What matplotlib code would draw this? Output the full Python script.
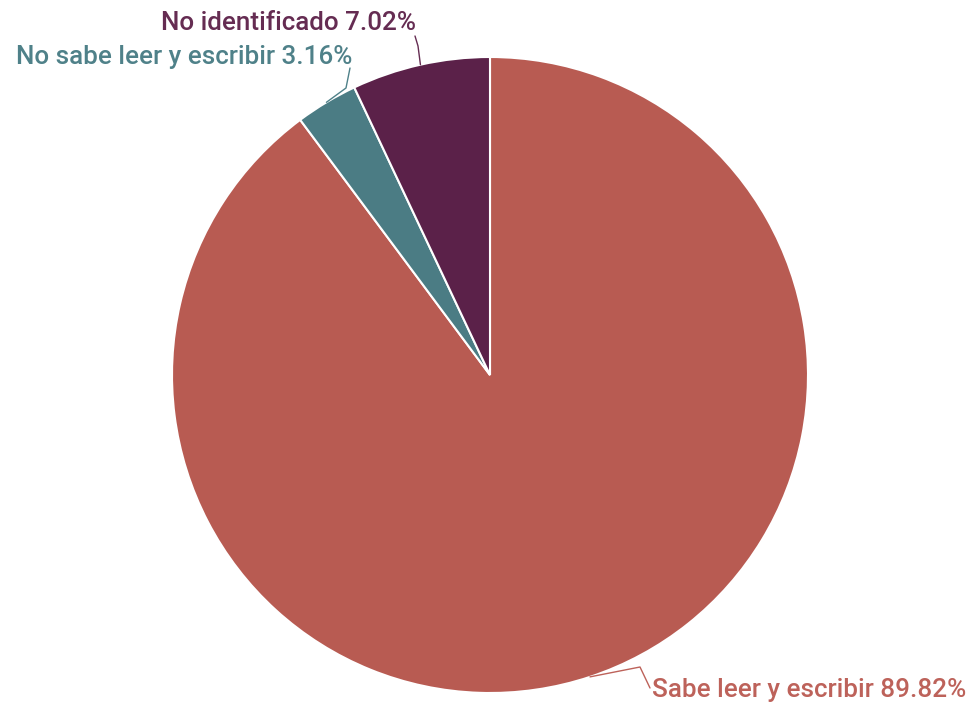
import matplotlib
matplotlib.use("Agg")
import matplotlib.pyplot as plt
import numpy as np

# data
labels = ["Sabe leer y escribir", "No sabe leer y escribir", "No identificado"]
values = [89.82, 3.16, 7.02]
colors = ["#b85b52", "#4b7c84", "#5b2149"]
text_colors = ["#bd625a", "#4f8189", "#652c52"]

W, H = 971, 711
CX, CY, R = 490, H - 375, 318


def main():
    fig = plt.figure(figsize=(W / 100, H / 100), dpi=100)
    ax = fig.add_axes([0, 0, 1, 1])

    wedges, _ = ax.pie(values, colors=colors, startangle=90, counterclock=False,
                       center=(CX, CY), radius=R, frame=True,
                       wedgeprops=dict(edgecolor="white", linewidth=1.5))
    ax.set_xlim(0, W)
    ax.set_ylim(0, H)
    ax.set_aspect("equal")
    ax.axis("off")

    # label layout: text position, alignment, leader bends (pixels from top)
    layout = {
        0: dict(tx=652, ty=690, ha="left", bends=[(640, 667), (650, 688)]),
        1: dict(tx=352, ty=57, ha="right", bends=[(346, 88), (350, 68)]),
        2: dict(tx=416, ty=23, ha="right", bends=[(418, 46), (415, 36)]),
    }
    for i, w in enumerate(wedges):
        mid = np.deg2rad((w.theta1 + w.theta2) / 2)
        sx = CX + R * np.cos(mid)
        sy = CY + R * np.sin(mid)
        lay = layout[i]
        xs = [sx] + [b[0] for b in lay["bends"]]
        ys = [sy] + [H - b[1] for b in lay["bends"]]
        ax.plot(xs, ys, color=text_colors[i], lw=1.0, solid_capstyle="round")
        ax.text(lay["tx"], H - lay["ty"], f"{labels[i]} {values[i]:.2f}%",
                ha=lay["ha"], va="center", fontsize=18.7, fontfamily="Roboto",
                fontweight="medium", color=text_colors[i])

    fig.savefig("out.png", dpi=100, facecolor="white")


if __name__ == "__main__":
    main()
